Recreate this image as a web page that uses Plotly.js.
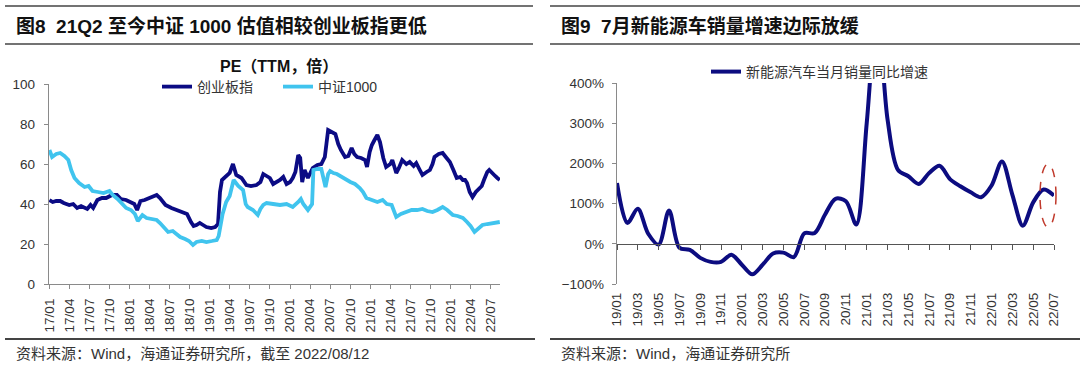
<!DOCTYPE html>
<html>
<head>
<meta charset="utf-8">
<script src="https://cdn.plot.ly/plotly-3.0.1.min.js"></script>
<style>html,body{margin:0;padding:0;background:#fff;}#chart{width:1080px;height:365px;}</style>
</head>
<body>
<div id="chart"></div>
<script>
// ---------- Figure 8 data: PE (TTM) ----------
const cybName = '创业板指';
const csiName = '中证1000';
const cybDates = ['2017-01-01','2017-01-16','2017-02-01','2017-02-19','2017-03-07','2017-04-01','2017-04-19','2017-05-07','2017-05-25','2017-06-22','2017-07-07','2017-07-19','2017-08-07','2017-08-28','2017-09-16','2017-10-13','2017-11-04','2017-11-22','2017-12-16',
'2018-01-07','2018-01-22','2018-02-04','2018-02-19','2018-03-10','2018-04-07','2018-05-04','2018-05-19','2018-06-13','2018-07-10','2018-08-04','2018-08-19','2018-09-04','2018-09-19','2018-10-07','2018-10-19','2018-11-01','2018-11-16','2018-12-01','2018-12-16',
'2019-01-07','2019-01-25','2019-02-07','2019-02-16','2019-02-25','2019-03-10','2019-04-01','2019-04-16','2019-05-01','2019-05-25','2019-06-16','2019-07-07','2019-08-01','2019-08-19','2019-09-01','2019-09-16','2019-10-01','2019-10-16','2019-11-01','2019-11-16','2019-12-01','2019-12-16',
'2020-01-01','2020-01-13','2020-01-25','2020-02-07','2020-02-16','2020-02-25','2020-03-07','2020-03-22','2020-04-13','2020-05-04','2020-05-22','2020-06-07','2020-06-22','2020-07-10','2020-07-25','2020-08-07','2020-08-19','2020-09-07','2020-09-22','2020-10-07','2020-10-19','2020-11-01','2020-11-19','2020-12-07','2020-12-16','2020-12-28',
'2021-01-07','2021-01-19','2021-02-01','2021-02-13','2021-02-28','2021-03-13','2021-04-01','2021-04-10','2021-04-28','2021-05-10','2021-05-25','2021-06-13','2021-06-28','2021-07-16','2021-07-28','2021-08-13','2021-08-25','2021-09-13','2021-09-28','2021-10-10','2021-10-19','2021-11-07','2021-11-25','2021-12-13','2021-12-28',
'2022-01-13','2022-01-28','2022-02-13','2022-02-25','2022-03-07','2022-03-16','2022-03-28','2022-04-10','2022-04-25','2022-05-10','2022-05-22','2022-06-01','2022-06-16','2022-06-25','2022-07-10','2022-07-22','2022-08-01','2022-08-12'];
const cybValues = [42,41,41.5,41.5,40.5,39.5,40,38,39,37.5,39.5,38,42,43,43,44.5,44.5,42.5,42,
41,40,37,41.5,42,43.5,44.5,43,39.5,38,37,36,35.5,35,31,29,29.5,30.5,29.5,28.5,
28,28.5,30,46,52,53.5,55.5,60,54.5,53,49.5,49,49.5,51,55,54,53,50,51,52,53.5,50,
51,53,56,64.5,63,51,57,53,58,59.5,60,63.5,77,76,75,70,67,63.5,64,68,65,63.5,63,62,58.5,66,
69.5,72,74.5,71,63,58.5,60,62,55.5,58,62,60,61,59,60.5,57,54.5,56,57,60,63.5,65,65.5,63,61,
57,53,53.5,52,52,50.5,46,43.5,46,48,49,52,56,57,55,54,53,52];

const csiDates = ['2017-01-01','2017-01-13','2017-02-01','2017-02-19','2017-03-10','2017-03-28','2017-04-10','2017-04-25','2017-05-16','2017-06-10','2017-06-28','2017-07-16','2017-08-10','2017-09-04','2017-10-01','2017-10-16','2017-11-07','2017-11-28','2017-12-16',
'2018-01-07','2018-01-25','2018-02-07','2018-02-28','2018-03-19','2018-04-13','2018-05-04','2018-05-19','2018-06-07','2018-06-25','2018-07-16','2018-08-04','2018-08-19','2018-09-10','2018-09-28','2018-10-16','2018-11-01','2018-11-25','2018-12-16',
'2019-01-10','2019-02-01','2019-02-10','2019-02-19','2019-02-28','2019-03-16','2019-04-01','2019-04-19','2019-05-10','2019-06-01','2019-06-13','2019-06-22','2019-07-16','2019-08-07','2019-08-19','2019-09-01','2019-09-16','2019-10-16','2019-11-16','2019-12-16',
'2020-01-13','2020-02-07','2020-02-19','2020-03-01','2020-03-22','2020-04-10','2020-04-16','2020-05-04','2020-05-22','2020-06-10','2020-06-22','2020-07-01','2020-07-16','2020-08-01','2020-08-28','2020-09-16','2020-10-01','2020-10-22','2020-11-13','2020-11-28','2020-12-13',
'2021-01-07','2021-02-01','2021-02-25','2021-03-16','2021-04-07','2021-04-19','2021-04-28','2021-05-19','2021-06-13','2021-07-07','2021-08-01','2021-08-25','2021-09-16','2021-10-10','2021-11-01','2021-11-25','2021-12-16',
'2022-01-10','2022-02-01','2022-02-25','2022-03-16','2022-04-01','2022-04-19','2022-05-07','2022-05-25','2022-06-16','2022-07-10','2022-07-25','2022-08-12'];
const csiValues = [67,63.5,65,65.5,64,62,57,53,50.5,48.5,49,46.5,46,45.5,46.5,44.5,42.5,40,38,
37,35,31.5,34.5,33,32.5,32,30.5,28.5,26,26.5,25,23.5,22.5,21.5,19.5,21,21.5,21,
21.5,22,24,30,35,41,44,52,49,47,40,38.5,37,34.5,37.5,39.5,40.5,40,39.5,40,
38.5,41,42.5,40,37,40,57,57.5,57.5,48.5,55,56.5,55.5,55,53,52,51,50,48,46,43,
42,41,42,40,39.5,36,33.5,35,36,37,37,37.5,36.5,36,37,38.5,37,
34.5,34,33,31,29,26,28,29.5,30,30.5,30.5,31];

const peTickDates = ['2017-01-01','2017-04-01','2017-07-01','2017-10-01','2018-01-01','2018-04-01','2018-07-01','2018-10-01','2019-01-01','2019-04-01','2019-07-01','2019-10-01','2020-01-01','2020-04-01','2020-07-01','2020-10-01','2021-01-01','2021-04-01','2021-07-01','2021-10-01','2022-01-01','2022-04-01','2022-07-01'];
const peTickLabels = ['17/01','17/04','17/07','17/10','18/01','18/04','18/07','18/10','19/01','19/04','19/07','19/10','20/01','20/04','20/07','20/10','21/01','21/04','21/07','21/10','22/01','22/04','22/07'];

// ---------- Figure 9 data: NEV monthly sales YoY ----------
const nevName = '新能源汽车当月销量同比增速';
const nevMonths = ['19/01','19/02','19/03','19/04','19/05','19/06','19/07','19/08','19/09','19/10','19/11','19/12',
'20/01','20/02','20/03','20/04','20/05','20/06','20/07','20/08','20/09','20/10','20/11','20/12',
'21/01','21/02','21/03','21/04','21/05','21/06','21/07','21/08','21/09','21/10','21/11','21/12',
'22/01','22/02','22/03','22/04','22/05','22/06','22/07'];
const nevGrowth = [151,52,87,25,-2,83,-10,-15,-35,-45,-45,-27,
-52,-76,-52,-24,-22,-33,26,27,73,112,106,48,
300,585,310,184,168,149,176,194,161,143,128,116,
145,205,122,45,103,135,120];
const nevTickLabels = ['19/01','19/03','19/05','19/07','19/09','19/11','20/01','20/03','20/05','20/07','20/09','20/11','21/01','21/03','21/05','21/07','21/09','21/11','22/01','22/03','22/05','22/07'];

// ---------- layout helpers ----------
const W = 1080, H = 365;
const px = v => v / W;
const py = v => 1 - v / H;
const latinCjk = 'Liberation Sans, Arial, Noto Sans CJK SC, sans-serif';
const tickFont = {family: latinCjk, size: 13.5, color: '#333'};
const axisGray = '#8a8a8a';

const traces = [
  {x: cybDates, y: cybValues, name: cybName, type: 'scatter', mode: 'lines',
   line: {color: '#0b0b84', width: 3.8}, xaxis: 'x', yaxis: 'y', legend: 'legend'},
  {x: csiDates, y: csiValues, name: csiName, type: 'scatter', mode: 'lines',
   line: {color: '#40c4ee', width: 3.8}, xaxis: 'x', yaxis: 'y', legend: 'legend'},
  {x: nevMonths, y: nevGrowth, name: nevName, type: 'scatter', mode: 'lines',
   line: {color: '#0c0c80', width: 4, shape: 'spline', smoothing: 0.9}, xaxis: 'x2', yaxis: 'y2', legend: 'legend2'},
  // invisible helper so the zero-line tick axis is drawn
  {x: [0], y: [0], type: 'scatter', mode: 'markers', marker: {opacity: 0}, showlegend: false,
   hoverinfo: 'skip', xaxis: 'x3', yaxis: 'y2'}
];

const nevTickIdx = nevMonths.map((m, i) => i).filter(i => i % 2 === 0);

const layout = {
  width: W, height: H,
  margin: {l: 0, r: 0, t: 0, b: 0},
  paper_bgcolor: '#fff', plot_bgcolor: '#fff',
  showlegend: true,
  xaxis: {
    domain: [px(49), px(500)], type: 'date', range: ['2016-12-30', '2022-08-13'],
    anchor: 'y', tickmode: 'array', tickvals: peTickDates, ticktext: peTickLabels,
    tickangle: -90, ticks: 'outside', ticklen: 4, tickcolor: axisGray, ticklabelstandoff: 4,
    showline: true, linecolor: axisGray, linewidth: 1.2, showgrid: false, zeroline: false,
    tickfont: tickFont
  },
  yaxis: {
    domain: [1 - 284 / H, 1 - 84 / H], range: [0, 100], dtick: 20, anchor: 'x',
    ticks: 'outside', ticklen: 4, tickcolor: axisGray, showline: true, linecolor: axisGray, linewidth: 1.2,
    ticklabelstandoff: 6, showgrid: false, zeroline: false, tickfont: tickFont
  },
  xaxis2: {
    domain: [px(617), px(1054)], type: 'category', range: [0, nevMonths.length - 1],
    anchor: 'y2', tickmode: 'array', tickvals: nevTickLabels, ticktext: nevTickLabels,
    tickangle: -90, ticks: '', showline: false, showgrid: false, zeroline: false,
    ticklabelstandoff: 5, tickfont: tickFont
  },
  xaxis3: {
    domain: [px(617), px(1054)], type: 'linear', range: [0, nevMonths.length - 1],
    overlaying: 'x2', anchor: 'free', position: 1 - 244 / H,
    tickmode: 'array', tickvals: nevTickIdx, ticks: 'outside', ticklen: 5, tickcolor: '#555',
    showticklabels: false, showline: true, linecolor: '#555', linewidth: 1.2,
    showgrid: false, zeroline: false
  },
  yaxis2: {
    domain: [1 - 284 / H, 1 - 83 / H], range: [-100, 400], dtick: 100, ticksuffix: '%', anchor: 'x2',
    ticks: 'outside', ticklen: 4, tickcolor: axisGray, showline: true, linecolor: axisGray, linewidth: 1.2,
    ticklabelstandoff: 5, showgrid: false, zeroline: false, tickfont: tickFont
  },
  legend: {
    orientation: 'h', x: px(157), y: py(87), xanchor: 'left', yanchor: 'middle',
    font: {family: latinCjk, size: 14, color: '#333'}, bgcolor: 'rgba(0,0,0,0)',
    entrywidth: 76, entrywidthmode: 'pixels', itemclick: false
  },
  legend2: {
    orientation: 'h', x: px(706), y: py(72), xanchor: 'left', yanchor: 'middle',
    font: {family: latinCjk, size: 14, color: '#333'}, bgcolor: 'rgba(0,0,0,0)', itemclick: false
  },
  shapes: [
    // panel rules
    {type: 'line', xref: 'paper', yref: 'paper', x0: px(5), x1: px(533), y0: py(6), y1: py(6), line: {color: '#444', width: 1.6}},
    {type: 'line', xref: 'paper', yref: 'paper', x0: px(5), x1: px(533), y0: py(44), y1: py(44), line: {color: '#444', width: 1.6}},
    {type: 'line', xref: 'paper', yref: 'paper', x0: px(5), x1: px(535), y0: py(339), y1: py(339), line: {color: '#444', width: 1.8}},
    {type: 'line', xref: 'paper', yref: 'paper', x0: px(550), x1: px(1080), y0: py(6), y1: py(6), line: {color: '#444', width: 1.6}},
    {type: 'line', xref: 'paper', yref: 'paper', x0: px(550), x1: px(1080), y0: py(44), y1: py(44), line: {color: '#444', width: 1.6}},
    {type: 'line', xref: 'paper', yref: 'paper', x0: px(550), x1: px(1080), y0: py(339), y1: py(339), line: {color: '#444', width: 1.8}},
    // highlight ellipse (callout decoration) around the last two months
    {type: 'circle', xref: 'paper', yref: 'paper', x0: px(1040), x1: px(1056), y0: py(227), y1: py(164),
     line: {color: '#c0392b', width: 1.5, dash: 'dash'}}
  ],
  annotations: [
    {xref: 'paper', yref: 'paper', x: px(14), y: py(26), xanchor: 'left', yanchor: 'middle', showarrow: false,
     text: '<b>图8  21Q2 至今中证 1000 估值相较创业板指更低</b>', font: {family: latinCjk, size: 19, color: '#111'}},
    {xref: 'paper', yref: 'paper', x: px(559), y: py(26), xanchor: 'left', yanchor: 'middle', showarrow: false,
     text: '<b>图9  7月新能源车销量增速边际放缓</b>', font: {family: latinCjk, size: 19, color: '#111'}},
    {xref: 'paper', yref: 'paper', x: px(279), y: py(66), xanchor: 'center', yanchor: 'middle', showarrow: false,
     text: '<b>PE（TTM，倍）</b>', font: {family: latinCjk, size: 16, color: '#111'}},
    {xref: 'paper', yref: 'paper', x: px(14), y: py(353), xanchor: 'left', yanchor: 'middle', showarrow: false,
     text: '资料来源：Wind，海通证券研究所，截至 2022/08/12', font: {family: latinCjk, size: 15, color: '#333'}},
    {xref: 'paper', yref: 'paper', x: px(559), y: py(353), xanchor: 'left', yanchor: 'middle', showarrow: false,
     text: '资料来源：Wind，海通证券研究所', font: {family: latinCjk, size: 15, color: '#333'}}
  ]
};

Plotly.newPlot('chart', traces, layout, {staticPlot: true, displayModeBar: false});
</script>
</body>
</html>
